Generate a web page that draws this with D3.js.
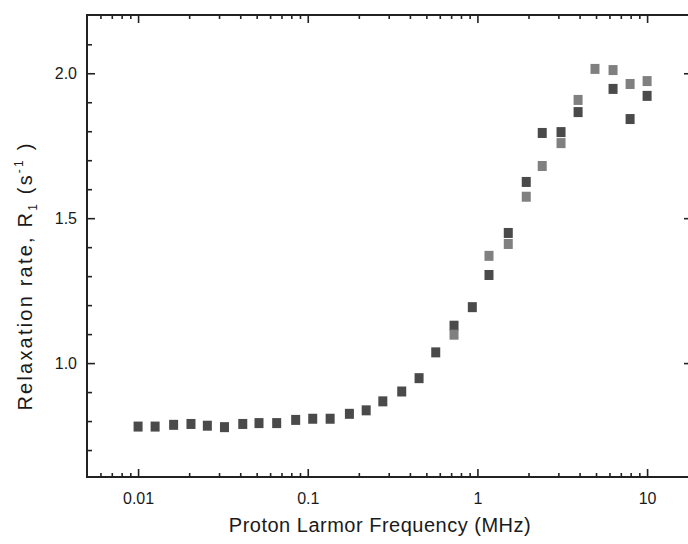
<!DOCTYPE html>
<html><head><meta charset="utf-8">
<script src="https://cdn.jsdelivr.net/npm/d3@7"></script>
<style>
body{margin:0;background:#fff}
text{font-family:"Liberation Sans",Arial,sans-serif;fill:#1a1a1a}
</style>
</head><body>
<svg id="c" width="688" height="544"></svg>
<script>
// ---- data ----
const freqA = [0.0100,0.0126,0.0162,0.0205,0.0256,0.0323,0.0414,0.0516,0.0656,0.0849,0.107,0.1355,0.176,0.221,0.277,0.358,0.453,0.568,0.728,0.933,1.17,1.52,1.94,2.41,3.11,3.92,6.30,7.94,10.0];
const r1A   = [0.781,0.781,0.787,0.790,0.784,0.779,0.790,0.793,0.793,0.804,0.808,0.808,0.825,0.837,0.868,0.902,0.948,1.037,1.129,1.193,1.304,1.449,1.625,1.794,1.797,1.866,1.946,1.842,1.922];
const freqB = [0.728,1.17,1.52,1.94,2.41,3.11,3.92,4.93,6.30,7.94,10.0];
const r1B   = [1.098,1.370,1.411,1.574,1.680,1.759,1.908,2.015,2.011,1.963,1.973];
const xMajorTicks = [0.01,0.1,1,10];
const xTickLabels = ["0.01","0.1","1","10"];
const yMajorTicks = [1.0,1.5,2.0];
const yTickLabels = ["1.0","1.5","2.0"];
const xTitle = "Proton Larmor Frequency (MHz)";

// ---- layout ----
const L=87, R=690, T=15, B=477;
const svg = d3.select("#c");
const x = d3.scaleLog().domain([0.005,17.9]).range([L,R]);
const y = d3.scaleLinear().domain([0.607,2.201]).range([B,T]);

const xMinor = [];
[0.001,0.01,0.1,1,10].forEach(d=>{for(let k=2;k<=9;k++){const v=d*k; if(v>0.0051&&v<17.8) xMinor.push(v);}});
const yMinor = d3.range(7,22).map(i=>i/10).filter(v=>!yMajorTicks.some(m=>Math.abs(m-v)<1e-6));

function styleAxis(g){g.select(".domain").remove(); g.selectAll("line").attr("stroke","#222").attr("stroke-width",1.6);}

// bottom
svg.append("g").attr("transform",`translate(0,${B})`)
  .call(d3.axisBottom(x).tickValues(xMinor).tickSizeInner(-4).tickFormat(""))
  .call(styleAxis);
svg.append("g").attr("transform",`translate(0,${B})`)
  .call(d3.axisBottom(x).tickValues(xMajorTicks).tickSizeInner(-8).tickPadding(16)
    .tickFormat((d,i)=>xTickLabels[i]))
  .call(styleAxis)
  .call(g=>g.selectAll("text").attr("font-size",16).attr("font-family",null).attr("fill","#1a1a1a"));
// top
svg.append("g").attr("transform",`translate(0,${T})`)
  .call(d3.axisTop(x).tickValues(xMinor).tickSizeInner(-4).tickFormat(""))
  .call(styleAxis);
svg.append("g").attr("transform",`translate(0,${T})`)
  .call(d3.axisTop(x).tickValues(xMajorTicks).tickSizeInner(-8).tickFormat(""))
  .call(styleAxis);
// left
svg.append("g").attr("transform",`translate(${L},0)`)
  .call(d3.axisLeft(y).tickValues(yMinor).tickSizeInner(-5).tickFormat(""))
  .call(styleAxis);
svg.append("g").attr("transform",`translate(${L},0)`)
  .call(d3.axisLeft(y).tickValues(yMajorTicks).tickSizeInner(-8).tickPadding(10)
    .tickFormat((d,i)=>yTickLabels[i]))
  .call(styleAxis)
  .call(g=>g.selectAll("text").attr("font-size",16).attr("font-family",null).attr("fill","#1a1a1a"));
// right
svg.append("g").attr("transform",`translate(${R},0)`)
  .call(d3.axisRight(y).tickValues(yMajorTicks).tickSizeInner(-6).tickFormat(""))
  .call(styleAxis);

// frame
svg.append("rect").attr("x",L).attr("y",T).attr("width",R-L).attr("height",B-T)
  .attr("fill","none").attr("stroke","#222").attr("stroke-width",2);

// data
const sA = freqA.map((f,i)=>({f,v:r1A[i]}));
const sB = freqB.map((f,i)=>({f,v:r1B[i]}));
const W=9,H=10;
svg.append("g").selectAll("rect").data(sA).join("rect")
  .attr("x",d=>x(d.f)-W/2).attr("y",d=>y(d.v)-H/2).attr("width",W).attr("height",H)
  .attr("fill","#4a4a4a");
svg.append("g").selectAll("rect").data(sB).join("rect")
  .attr("x",d=>x(d.f)-W/2).attr("y",d=>y(d.v)-H/2).attr("width",W).attr("height",H)
  .attr("fill","#808080");

// titles
svg.append("text").attr("x",380).attr("y",532).attr("text-anchor","middle")
  .attr("font-size",20).attr("letter-spacing",0.5).text(xTitle);

const yt = svg.append("text").attr("transform","translate(32,276) rotate(-90)")
  .attr("text-anchor","middle").attr("font-size",20).attr("letter-spacing",2.2);
yt.append("tspan").text("Relaxation rate, R");
yt.append("tspan").attr("dy",5).attr("font-size",12).text("1");
yt.append("tspan").attr("dy",-5).text(" (s");
yt.append("tspan").attr("dy",-9).attr("font-size",12).text("-1");
yt.append("tspan").attr("dy",9).text(" )");
</script>
</body></html>
